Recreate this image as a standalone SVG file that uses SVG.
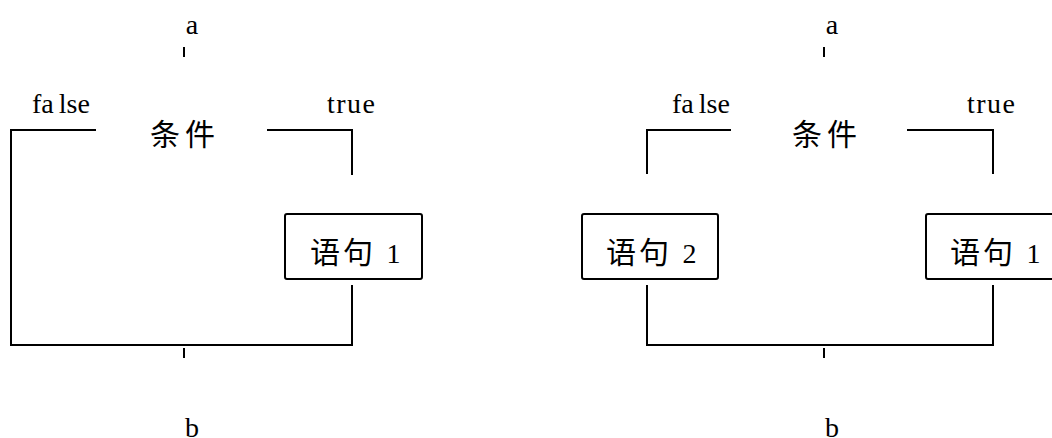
<svg xmlns="http://www.w3.org/2000/svg" width="1052" height="438" viewBox="0 0 1052 438">
  <style>
    .ln { fill: none; stroke: #000; stroke-width: 2; stroke-linecap: butt; }
    .box { fill: #fff; stroke: #000; stroke-width: 2; }
    .lat { font-family: "Liberation Serif", "Noto Sans CJK SC", serif; font-size: 28px; fill: #000; }
    .cjk { font-family: "Liberation Serif", "Noto Sans CJK SC", sans-serif; font-size: 30px; fill: #000; }
  </style>
  <rect width="1052" height="438" fill="#fff"/>

  <!-- single-branch if: left diagram -->
  <g id="left-labels">
    <text class="lat" x="192" y="34" text-anchor="middle">a</text>
    <text class="lat" x="32" y="113">fa<tspan dx="5">lse</tspan></text>
    <text class="lat" x="327" y="113" letter-spacing="1.5">true</text>
    <text class="lat" x="192" y="437" text-anchor="middle">b</text>
  </g>
  <g id="left-cond">
    <text class="cjk" x="150" y="145" letter-spacing="5">条件</text>
  </g>
  <g id="left-stmt1">
    <rect class="box" x="285" y="214" width="137" height="65" rx="2"/>
    <text class="cjk" x="310" y="263" font-size="29" letter-spacing="3">语句 <tspan class="lat">1</tspan></text>
  </g>
  <g id="left-connectors">
    <path class="ln" d="M184 47 V57"/>
    <path class="ln" d="M96 130 H11 V345 H352 V285"/>
    <path class="ln" d="M267 130 H352 V175"/>
    <path class="ln" d="M184 348 V358"/>
  </g>

  <!-- two-branch if/else: right diagram -->
  <g id="right-labels">
    <text class="lat" x="832" y="34" text-anchor="middle">a</text>
    <text class="lat" x="672" y="113">fa<tspan dx="5">lse</tspan></text>
    <text class="lat" x="967" y="113" letter-spacing="1.5">true</text>
    <text class="lat" x="832" y="437" text-anchor="middle">b</text>
  </g>
  <g id="right-cond">
    <text class="cjk" x="792" y="145" letter-spacing="5">条件</text>
  </g>
  <g id="right-stmt2">
    <rect class="box" x="582" y="214" width="136" height="65" rx="2"/>
    <text class="cjk" x="606" y="263" font-size="29" letter-spacing="3">语句 <tspan class="lat">2</tspan></text>
  </g>
  <g id="right-stmt1">
    <rect class="box" x="926" y="214" width="137" height="65" rx="2"/>
    <text class="cjk" x="950" y="263" font-size="29" letter-spacing="3">语句 <tspan class="lat">1</tspan></text>
  </g>
  <g id="right-connectors">
    <path class="ln" d="M824 47 V57"/>
    <path class="ln" d="M731 130 H647 V174"/>
    <path class="ln" d="M907 130 H993 V174"/>
    <path class="ln" d="M647 285 V345 H993 V285"/>
    <path class="ln" d="M824 348 V358"/>
  </g>
</svg>
